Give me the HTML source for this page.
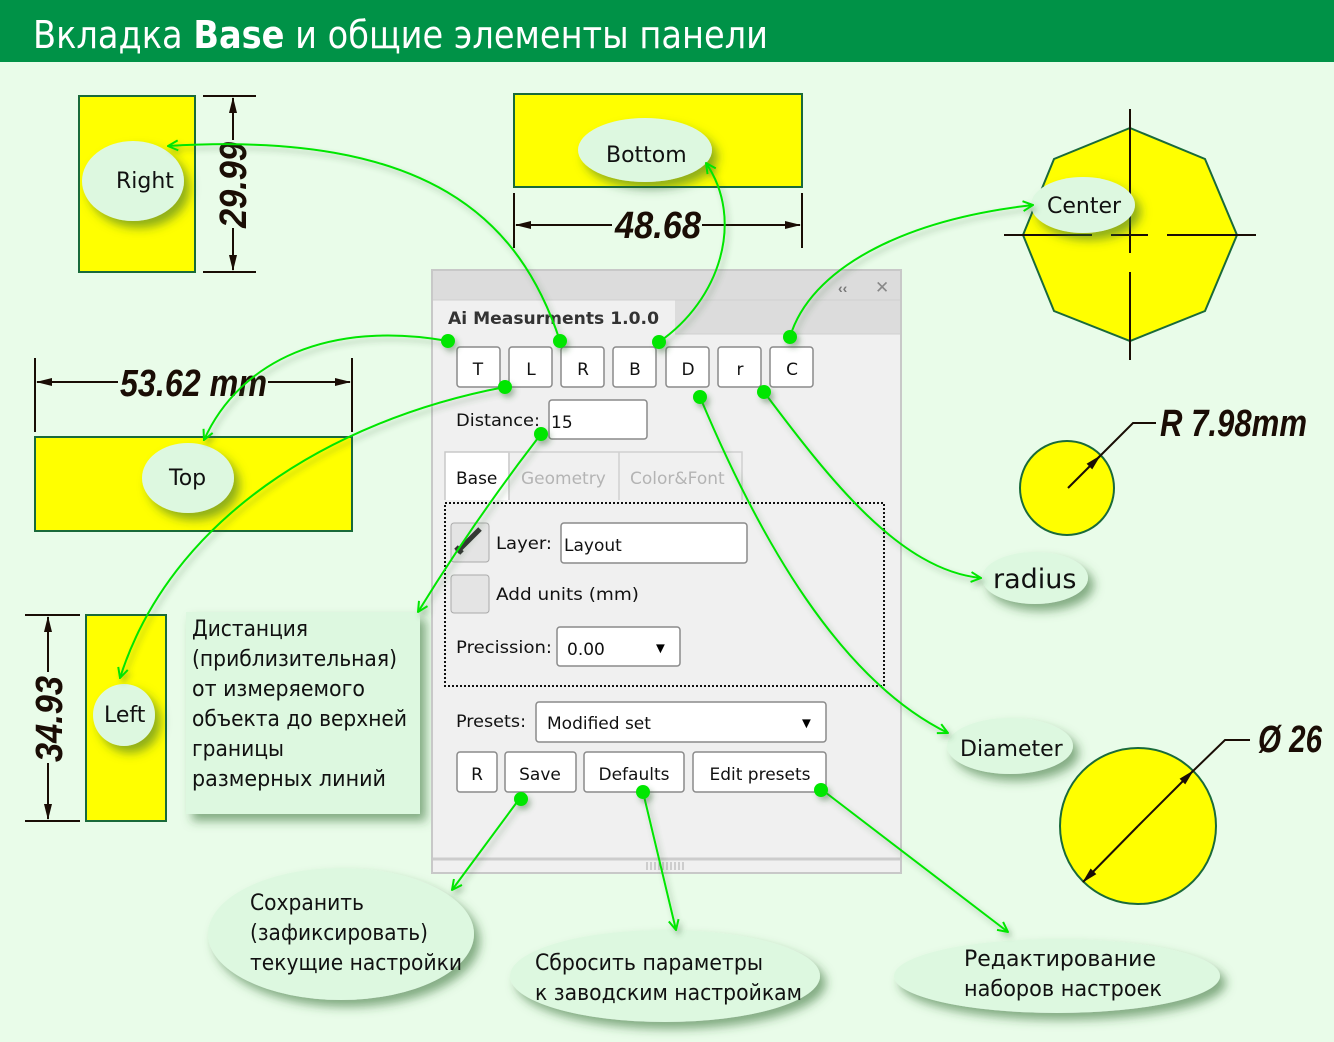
<!DOCTYPE html>
<html><head><meta charset="utf-8"><style>
html,body{margin:0;padding:0;}
body{width:1334px;height:1042px;overflow:hidden;background:#e9fce9;font-family:"Liberation Sans","DejaVu Sans",sans-serif;}
svg{display:block}
.dim{font-family:"Liberation Sans",sans-serif;font-weight:bold;font-style:italic;fill:#1a0d05;}
.ui{font-family:"DejaVu Sans","Liberation Sans",sans-serif;font-size:17px;fill:#111;}
.bt{font-family:"DejaVu Sans","Liberation Sans",sans-serif;font-size:22px;fill:#111;}
</style></head><body>
<svg width="1334" height="1042" viewBox="0 0 1334 1042" xmlns="http://www.w3.org/2000/svg">
<defs>
<filter id="sh" x="-30%" y="-30%" width="170%" height="170%"><feGaussianBlur in="SourceAlpha" stdDeviation="5"/><feOffset dx="6" dy="7" result="b"/><feFlood flood-color="#2f6a2f" flood-opacity="0.55"/><feComposite in2="b" operator="in"/><feMerge><feMergeNode/><feMergeNode in="SourceGraphic"/></feMerge></filter>
<filter id="gs" x="-20%" y="-20%" width="140%" height="140%"><feGaussianBlur in="SourceAlpha" stdDeviation="3"/><feOffset dx="3" dy="4" result="b"/><feFlood flood-color="#3a6a3a" flood-opacity="0.4"/><feComposite in2="b" operator="in"/><feMerge><feMergeNode/><feMergeNode in="SourceGraphic"/></feMerge></filter>
<marker id="ar" viewBox="0 0 12 12" refX="11" refY="6" markerWidth="12" markerHeight="12" markerUnits="userSpaceOnUse" orient="auto"><path d="M1,1 L11,6 L1,11" fill="none" stroke="#00e600" stroke-width="2"/></marker>
<marker id="da" viewBox="0 0 16 10" refX="15" refY="5" markerWidth="16" markerHeight="10" markerUnits="userSpaceOnUse" orient="auto"><path d="M0,1 L16,5 L0,9 Z" fill="#1a0d05"/></marker>
</defs>

<rect x="0" y="0" width="1334" height="62" fill="#009247"/>
<text x="33" y="48" font-size="38" fill="#fff" font-family="'DejaVu Sans','Liberation Sans',sans-serif" textLength="735" lengthAdjust="spacingAndGlyphs">Вкладка <tspan font-weight="bold">Base</tspan> и общие элементы панели</text>

<rect x="79" y="96" width="116" height="176" fill="#ffff00" stroke="#1a6a3a" stroke-width="2"/>
<g stroke="#1a0d05" stroke-width="2">
<line x1="203" y1="96" x2="256" y2="96"/><line x1="203" y1="272" x2="256" y2="272"/>
<line x1="233" y1="140" x2="233" y2="98" marker-end="url(#da)"/><line x1="233" y1="228" x2="233" y2="270" marker-end="url(#da)"/>
</g>
<text class="dim" font-size="38" transform="translate(246,228) rotate(-90)" textLength="86" lengthAdjust="spacingAndGlyphs">29.99</text>

<rect x="514" y="94" width="288" height="93" fill="#ffff00" stroke="#1a6a3a" stroke-width="2"/>
<g stroke="#1a0d05" stroke-width="2">
<line x1="514" y1="193" x2="514" y2="248"/><line x1="802" y1="193" x2="802" y2="248"/>
<line x1="612" y1="225" x2="516" y2="225" marker-end="url(#da)"/><line x1="702" y1="225" x2="800" y2="225" marker-end="url(#da)"/>
</g>
<text class="dim" font-size="38" x="615" y="238" textLength="86" lengthAdjust="spacingAndGlyphs">48.68</text>

<rect x="35" y="437" width="317" height="94" fill="#ffff00" stroke="#1a6a3a" stroke-width="2"/>
<g stroke="#1a0d05" stroke-width="2">
<line x1="35" y1="358" x2="35" y2="432"/><line x1="352" y1="358" x2="352" y2="432"/>
<line x1="118" y1="382" x2="37" y2="382" marker-end="url(#da)"/><line x1="268" y1="382" x2="350" y2="382" marker-end="url(#da)"/>
</g>
<text class="dim" font-size="38" x="120" y="396" textLength="147" lengthAdjust="spacingAndGlyphs">53.62 mm</text>

<rect x="86" y="615" width="80" height="206" fill="#ffff00" stroke="#1a6a3a" stroke-width="2"/>
<g stroke="#1a0d05" stroke-width="2">
<line x1="25" y1="615" x2="80" y2="615"/><line x1="25" y1="821" x2="80" y2="821"/>
<line x1="48" y1="672" x2="48" y2="617" marker-end="url(#da)"/><line x1="48" y1="763" x2="48" y2="819" marker-end="url(#da)"/>
</g>
<text class="dim" font-size="38" transform="translate(62,762) rotate(-90)" textLength="86" lengthAdjust="spacingAndGlyphs">34.93</text>

<polygon points="1130,128 1205,159 1237,235 1205,311 1130,341 1054,311 1023,235 1054,159" fill="#ffff00" stroke="#1a6a3a" stroke-width="2"/>
<g stroke="#1a0d05" stroke-width="2">
<line x1="1004" y1="235" x2="1092" y2="235"/><line x1="1111" y1="235" x2="1148" y2="235"/><line x1="1167" y1="235" x2="1256" y2="235"/>
<line x1="1130" y1="109" x2="1130" y2="253"/><line x1="1130" y1="272" x2="1130" y2="360"/>
</g>

<circle cx="1067" cy="488" r="47" fill="#ffff00" stroke="#1a6a3a" stroke-width="2"/>
<g stroke="#1a0d05" stroke-width="2" fill="none">
<line x1="1068" y1="488" x2="1100" y2="456" marker-end="url(#da)"/>
<polyline points="1098,458 1133,423 1156,423"/>
</g>
<text class="dim" font-size="38" x="1160" y="436" textLength="147" lengthAdjust="spacingAndGlyphs">R 7.98mm</text>

<circle cx="1138" cy="826" r="78" fill="#ffff00" stroke="#1a6a3a" stroke-width="2"/>
<g stroke="#1a0d05" stroke-width="2" fill="none">
<line x1="1138" y1="826" x2="1193" y2="771" marker-end="url(#da)"/>
<line x1="1138" y1="826" x2="1083" y2="882" marker-end="url(#da)"/>
<polyline points="1192,772 1225,740 1250,740"/>
</g>
<text class="dim" font-size="38" x="1258" y="752" textLength="64" lengthAdjust="spacingAndGlyphs">Ø 26</text>

<g fill="#ddf8e0" filter="url(#sh)">
<ellipse cx="133" cy="181" rx="51" ry="40"/>
<ellipse cx="645" cy="150" rx="67" ry="32"/>
<ellipse cx="188" cy="478" rx="46" ry="35"/>
<ellipse cx="124" cy="715" rx="31" ry="31"/>
<ellipse cx="1083" cy="205" rx="52" ry="28"/>
<ellipse cx="1035" cy="578" rx="53" ry="26"/>
<ellipse cx="1010" cy="746" rx="63" ry="28"/>
<ellipse cx="341" cy="934" rx="133" ry="66"/>
<ellipse cx="665" cy="976" rx="155" ry="46"/>
<ellipse cx="1057" cy="976" rx="163" ry="37"/>
<rect x="186" y="612" width="234" height="202"/>
</g>
<g class="bt">
<text x="116" y="188">Right</text>
<text x="606" y="162">Bottom</text>
<text x="169" y="485">Top</text>
<text x="104" y="722">Left</text>
<text x="1047" y="213">Center</text>
<text x="993" y="588" font-size="27">radius</text>
<text x="960" y="756">Diameter</text>
</g>
<g class="bt">
<text x="192" y="636" textLength="116" lengthAdjust="spacingAndGlyphs">Дистанция</text>
<text x="192" y="666" textLength="205" lengthAdjust="spacingAndGlyphs">(приблизительная)</text>
<text x="192" y="696" textLength="173" lengthAdjust="spacingAndGlyphs">от измеряемого</text>
<text x="192" y="726" textLength="215" lengthAdjust="spacingAndGlyphs">объекта до верхней</text>
<text x="192" y="756" textLength="92" lengthAdjust="spacingAndGlyphs">границы</text>
<text x="192" y="786" textLength="194" lengthAdjust="spacingAndGlyphs">размерных линий</text>
</g>
<g class="bt" font-size="22">
<text x="250" y="910" textLength="114" lengthAdjust="spacingAndGlyphs">Сохранить</text>
<text x="250" y="940" textLength="178" lengthAdjust="spacingAndGlyphs">(зафиксировать)</text>
<text x="250" y="970" textLength="212" lengthAdjust="spacingAndGlyphs">текущие настройки</text>
<text x="535" y="970" textLength="228" lengthAdjust="spacingAndGlyphs">Сбросить параметры</text>
<text x="535" y="1000" textLength="267" lengthAdjust="spacingAndGlyphs">к заводским настройкам</text>
<text x="964" y="966" textLength="192" lengthAdjust="spacingAndGlyphs">Редактирование</text>
<text x="964" y="996" textLength="198" lengthAdjust="spacingAndGlyphs">наборов настроек</text>
</g>

<g>
<rect x="432" y="270" width="469" height="603" fill="#f0f0f0" stroke="#c8c8c8" stroke-width="2"/>
<rect x="433" y="271" width="467" height="29" fill="#dcdcdc"/>
<rect x="675" y="300" width="225" height="34" fill="#dcdcdc"/>
<line x1="433" y1="300" x2="900" y2="300" stroke="#cfcfcf"/>
<line x1="675" y1="334" x2="900" y2="334" stroke="#cfcfcf"/>
<text x="838" y="293" font-size="14" fill="#777" font-weight="bold">‹‹</text>
<text x="875" y="293" font-size="17" fill="#888" font-weight="bold">✕</text>
<text x="448" y="324" class="ui" font-weight="bold" style="fill:#333" textLength="211" lengthAdjust="spacingAndGlyphs">Ai Measurments 1.0.0</text>

<g fill="#fff" stroke="#8a8a8a" stroke-width="1.5">
<rect x="457" y="347" width="43" height="40" rx="3"/><rect x="509" y="347" width="43" height="40" rx="3"/>
<rect x="561" y="347" width="43" height="40" rx="3"/><rect x="613" y="347" width="43" height="40" rx="3"/>
<rect x="666" y="347" width="43" height="40" rx="3"/><rect x="718" y="347" width="43" height="40" rx="3"/>
<rect x="770" y="347" width="43" height="40" rx="3"/>
<rect x="549" y="400" width="98" height="39" rx="3"/>
<rect x="561" y="523" width="186" height="40" rx="3"/>
<rect x="557" y="627" width="123" height="39" rx="3"/>
<rect x="536" y="702" width="290" height="40" rx="3"/>
<rect x="457" y="752" width="40" height="40" rx="3"/><rect x="505" y="752" width="71" height="40" rx="3"/>
<rect x="584" y="752" width="100" height="40" rx="3"/><rect x="693" y="752" width="133" height="40" rx="3"/>
</g>
<g class="ui" text-anchor="middle">
<text x="478" y="375">T</text><text x="531" y="375">L</text><text x="583" y="375">R</text><text x="635" y="375">B</text>
<text x="688" y="375">D</text><text x="740" y="375">r</text><text x="792" y="375">C</text>
<text x="477" y="780">R</text><text x="540" y="780">Save</text><text x="634" y="780">Defaults</text><text x="760" y="780">Edit presets</text>
</g>
<g class="ui">
<text x="456" y="426" textLength="84" lengthAdjust="spacingAndGlyphs">Distance:</text><text x="551" y="428">15</text>
<text x="496" y="549" textLength="56" lengthAdjust="spacingAndGlyphs">Layer:</text><text x="564" y="551">Layout</text>
<text x="496" y="600" textLength="143" lengthAdjust="spacingAndGlyphs">Add units (mm)</text>
<text x="456" y="653" textLength="96" lengthAdjust="spacingAndGlyphs">Precission:</text><text x="567" y="655">0.00</text>
<text x="456" y="727" textLength="70" lengthAdjust="spacingAndGlyphs">Presets:</text><text x="547" y="729">Modified set</text>
</g>
<text x="653" y="653" font-size="15">▼</text>
<text x="799" y="728" font-size="15">▼</text>
<path d="M445,500 V452 H509 V500" fill="#fff" stroke="#c8c8c8" stroke-width="1.5"/>
<path d="M509,500 V452 H742 V500 M619,452 V500" fill="none" stroke="#d0d0d0" stroke-width="1.5"/>
<text x="456" y="484" class="ui">Base</text>
<text x="521" y="484" class="ui" style="fill:#b4b4b4">Geometry</text>
<text x="630" y="484" class="ui" style="fill:#b4b4b4">Color&amp;Font</text>
<rect x="445" y="503" width="439" height="183" fill="none" stroke="#111" stroke-width="2" stroke-dasharray="2,2"/>
<rect x="451" y="523" width="38" height="39" rx="3" fill="#e4e4e4" stroke="#aaa"/>
<path d="M457,552 L480,529 M456,547 L462,553" stroke="#333" stroke-width="5"/>
<rect x="451" y="575" width="38" height="38" rx="3" fill="#e4e4e4" stroke="#aaa"/>
<line x1="433" y1="859" x2="900" y2="859" stroke="#cccccc" stroke-width="3"/>
<g stroke="#aaa"><line x1="647" y1="862" x2="647" y2="870"/><line x1="651" y1="862" x2="651" y2="870"/><line x1="655" y1="862" x2="655" y2="870"/><line x1="659" y1="862" x2="659" y2="870"/><line x1="663" y1="862" x2="663" y2="870"/><line x1="667" y1="862" x2="667" y2="870"/><line x1="671" y1="862" x2="671" y2="870"/><line x1="675" y1="862" x2="675" y2="870"/><line x1="679" y1="862" x2="679" y2="870"/><line x1="683" y1="862" x2="683" y2="870"/></g>
</g>

<g fill="none" stroke="#00e600" stroke-width="2" marker-end="url(#ar)" filter="url(#gs)">
<path d="M560,341 C520,220 430,130 168,146"/>
<path d="M659,342 C720,300 745,220 706,163"/>
<path d="M790,337 C810,270 900,220 1033,205"/>
<path d="M448,341 C330,320 240,360 204,440"/>
<path d="M505,387 C330,420 170,520 120,678"/>
<path d="M541,434 C490,500 450,560 418,612"/>
<path d="M700,397 C760,540 840,680 948,733"/>
<path d="M764,392 C830,480 900,570 981,578"/>
<path d="M520,798 L452,890"/>
<path d="M643,792 L676,930"/>
<path d="M821,789 L1008,932"/>
</g>
<g fill="#00e600" filter="url(#gs)">
<circle cx="560" cy="341" r="7"/><circle cx="659" cy="342" r="7"/><circle cx="790" cy="337" r="7"/>
<circle cx="448" cy="341" r="7"/><circle cx="505" cy="387" r="7"/><circle cx="541" cy="434" r="7"/>
<circle cx="700" cy="397" r="7"/><circle cx="764" cy="392" r="7"/>
<circle cx="521" cy="799" r="7"/><circle cx="643" cy="792" r="7"/><circle cx="821" cy="790" r="7"/>
</g>
</svg>
</body></html>
